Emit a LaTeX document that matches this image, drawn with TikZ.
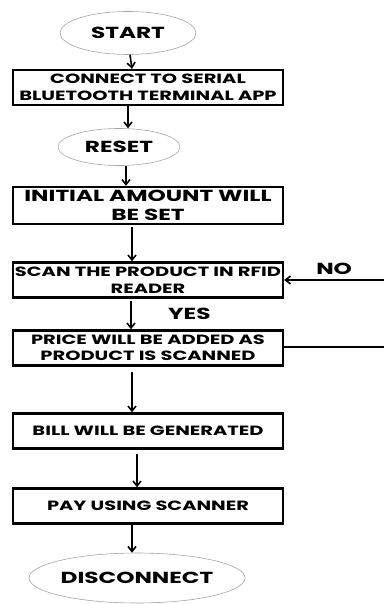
\documentclass[tikz,border=0pt]{standalone}
\usepackage{fontspec}
\setmainfont{Poppins}[FakeStretch=1.45]
\usetikzlibrary{shapes.geometric, arrows.meta, positioning}
\definecolor{ovalgray}{RGB}{165, 165, 165}

\tikzset{
  procbox/.style={draw, line width=2.4pt, minimum width=270pt, minimum height=35pt,
    align=center, inner sep=0pt, font=\bfseries\fontsize{13.4}{16.5}\selectfont},
  termoval/.style={ellipse, draw=ovalgray, line width=0.6pt, inner sep=0pt,
    font=\bfseries\fontsize{16}{18}\selectfont},
  flow/.style={-{Straight Barb[length=5pt, width=8pt]}, line width=1.6pt},
  sidelabel/.style={font=\bfseries\fontsize{16}{18}\selectfont},
}

\begin{document}
\begin{tikzpicture}[x=1pt, y=-1pt]
  \useasboundingbox (0, 0) rectangle (384, 604);

  % terminals and steps
  \node[termoval, minimum width=136pt, minimum height=43pt] (start) at (128, 33) {START};
  \node[procbox] (connect) at (148, 87.5) {CONNECT TO SERIAL\\BLUETOOTH TERMINAL APP};
  \node[termoval, minimum width=122pt, minimum height=37pt] (reset) at (119, 147) {RESET};
  \node[procbox, minimum height=37pt, font=\bfseries\fontsize{16}{19}\selectfont] (init) at (148, 205.5) {INITIAL AMOUNT WILL\\BE SET};
  \node[procbox] (scan) at (148, 280) {SCAN THE PRODUCT IN RFID\\READER};
  \node[procbox] (price) at (148, 348) {PRICE WILL BE ADDED AS\\PRODUCT IS SCANNED};
  \node[procbox] (bill) at (148, 431) {BILL WILL BE GENERATED};
  \node[procbox] (pay) at (148, 506) {PAY USING SCANNER};
  \node[termoval, minimum width=169pt, minimum height=50pt] (disc) at (137, 578) {DISCONNECT};

  % loop back from the right edge
  \coordinate (noin) at (384, 280);
  \coordinate (loopout) at (384, 347);

  % connectors
  \draw[flow] ([xshift=2pt]start.south) -- ([xshift=-16pt]connect.north);
  \draw[flow] ([xshift=-20pt]connect.south) -- ([xshift=9pt]reset.north);
  \draw[flow] ([xshift=7pt]reset.south) -- ([xshift=-22pt]init.north);
  \draw[flow, shorten <=2pt] ([xshift=-16pt]init.south) -- ([xshift=-16pt]scan.north);
  \draw[flow, shorten <=2pt] ([xshift=-17pt]scan.south) -- ([xshift=-17pt]price.north)
    node[sidelabel, midway, right=33pt] (yes) {YES};
  \draw[flow] (noin) -- (scan.east) node[sidelabel, pos=0.5, above=1pt] (no) {NO};
  \draw[line width=1.2pt] (price.east |- loopout) -- (loopout);
  \draw[flow, shorten <=5pt] ([xshift=-16pt]price.south) -- ([xshift=-16pt]bill.north);
  \draw[flow, shorten <=4pt] ([xshift=-11pt]bill.south) -- ([xshift=-11pt]pay.north);
  \draw[flow] ([xshift=-16pt]pay.south) -- ([xshift=-5pt]disc.north);
\end{tikzpicture}
\end{document}
